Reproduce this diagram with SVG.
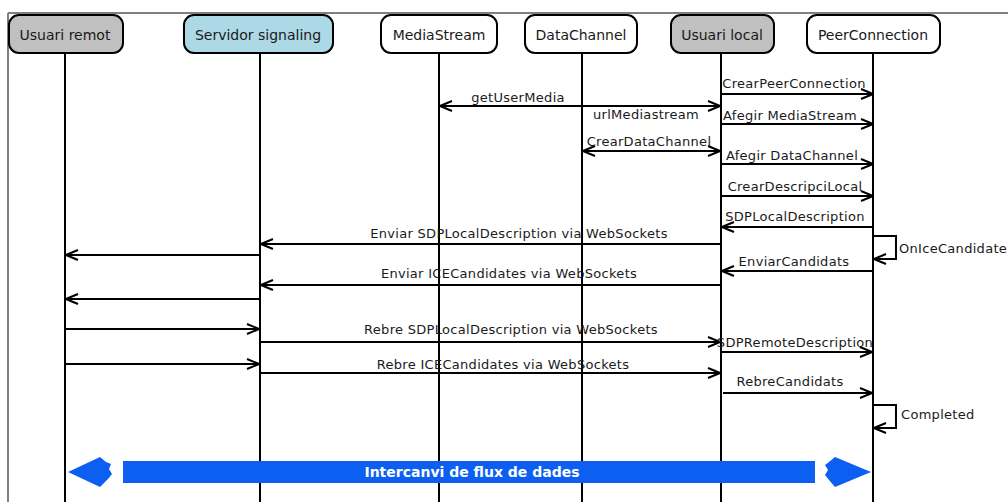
<svg xmlns="http://www.w3.org/2000/svg" width="1008" height="502" viewBox="0 0 1008 502">
  <style>
    .frame { stroke: #808080; stroke-width: 2; fill: none; }
    .box { stroke: #000; stroke-width: 2; }
    .gray { fill: #c0c0c0; }
    .blue { fill: #add8e6; }
    .white { fill: #fff; }
    .life { stroke: #000; stroke-width: 2; }
    .msg { stroke: #000; stroke-width: 2; fill: none; }
    .hd { font-family: "DejaVu Sans", Verdana, sans-serif; font-size: 14px; fill: #1a1a1a; text-anchor: middle; }
    .lbl { font-family: "DejaVu Sans", Verdana, sans-serif; font-size: 13px; letter-spacing: 0.3px; fill: #1a1a1a; text-anchor: middle; }
    .note { font-family: "DejaVu Sans", Verdana, sans-serif; font-size: 13px; letter-spacing: 0.3px; fill: #1a1a1a; }
    .band { fill: #0d5ff2; }
    .bandtxt { font-family: "DejaVu Sans", Verdana, sans-serif; font-size: 14px; font-weight: bold; fill: #fff; text-anchor: middle; }
  </style>
  <defs>
    <marker id="arr" viewBox="0 0 14 12" refX="13" refY="6" markerWidth="14" markerHeight="12" markerUnits="userSpaceOnUse" orient="auto-start-reverse">
      <path d="M1,1 L13,6 L1,11" fill="none" stroke="#000" stroke-width="2"/>
    </marker>
  </defs>

  <rect width="1008" height="502" fill="#fff"/>
  <!-- outer frame -->
  <path class="frame" d="M8,13 H1008 M8,13 V502"/>

  <!-- lifelines -->
  <g id="lifelines">
    <line class="life" x1="65" y1="53" x2="65" y2="502"/>
    <line class="life" x1="260" y1="53" x2="260" y2="502"/>
    <line class="life" x1="439" y1="53" x2="439" y2="502"/>
    <line class="life" x1="582" y1="53" x2="582" y2="502"/>
    <line class="life" x1="721" y1="53" x2="721" y2="502"/>
    <line class="life" x1="873" y1="53" x2="873" y2="502"/>
  </g>

  <!-- participants -->
  <g id="usuari-remot">
    <rect class="box gray" x="9" y="15" width="114" height="38" rx="10"/>
    <text class="hd" x="65" y="40">Usuari remot</text>
  </g>
  <g id="servidor-signaling">
    <rect class="box blue" x="184" y="15" width="149" height="38" rx="10"/>
    <text class="hd" x="258" y="40">Servidor signaling</text>
  </g>
  <g id="mediastream">
    <rect class="box white" x="381" y="15" width="116" height="38" rx="10"/>
    <text class="hd" x="439" y="40">MediaStream</text>
  </g>
  <g id="datachannel">
    <rect class="box white" x="525" y="15" width="112" height="38" rx="10"/>
    <text class="hd" x="581" y="40">DataChannel</text>
  </g>
  <g id="usuari-local">
    <rect class="box gray" x="671" y="15" width="103" height="38" rx="10"/>
    <text class="hd" x="722" y="40">Usuari local</text>
  </g>
  <g id="peerconnection">
    <rect class="box white" x="807" y="15" width="133" height="38" rx="10"/>
    <text class="hd" x="873" y="40">PeerConnection</text>
  </g>

  <!-- messages -->
  <g id="connectors">
    <line class="msg" x1="721" y1="94" x2="873" y2="94" marker-end="url(#arr)"/>
    <line class="msg" x1="440" y1="106" x2="720" y2="106" marker-start="url(#arr)" marker-end="url(#arr)"/>
    <line class="msg" x1="721" y1="124" x2="873" y2="124" marker-end="url(#arr)"/>
    <line class="msg" x1="583" y1="151" x2="720" y2="151" marker-start="url(#arr)" marker-end="url(#arr)"/>
    <line class="msg" x1="721" y1="164" x2="873" y2="164" marker-end="url(#arr)"/>
    <line class="msg" x1="721" y1="196" x2="873" y2="196" marker-end="url(#arr)"/>
    <line class="msg" x1="873" y1="227" x2="722" y2="227" marker-end="url(#arr)"/>
    <line class="msg" x1="721" y1="244" x2="261" y2="244" marker-end="url(#arr)"/>
    <path class="msg" d="M873,236 H896 V259 H874" marker-end="url(#arr)"/>
    <line class="msg" x1="260" y1="255" x2="66" y2="255" marker-end="url(#arr)"/>
    <line class="msg" x1="873" y1="271" x2="722" y2="271" marker-end="url(#arr)"/>
    <line class="msg" x1="721" y1="285" x2="261" y2="285" marker-end="url(#arr)"/>
    <line class="msg" x1="260" y1="299" x2="66" y2="299" marker-end="url(#arr)"/>
    <line class="msg" x1="65" y1="329" x2="259" y2="329" marker-end="url(#arr)"/>
    <line class="msg" x1="260" y1="342" x2="720" y2="342" marker-end="url(#arr)"/>
    <line class="msg" x1="721" y1="352" x2="872" y2="352" marker-end="url(#arr)"/>
    <line class="msg" x1="65" y1="364" x2="259" y2="364" marker-end="url(#arr)"/>
    <line class="msg" x1="260" y1="373" x2="720" y2="373" marker-end="url(#arr)"/>
    <line class="msg" x1="723" y1="393" x2="872" y2="393" marker-end="url(#arr)"/>
    <path class="msg" d="M873,405 H896 V428 H874" marker-end="url(#arr)"/>
  </g>

  <!-- message labels -->
  <g id="labels">
    <text class="lbl" x="794" y="88">CrearPeerConnection</text>
    <text class="lbl" x="518" y="102">getUserMedia</text>
    <text class="lbl" x="646" y="119">urlMediastream</text>
    <text class="lbl" x="790" y="120">Afegir MediaStream</text>
    <text class="lbl" x="649" y="146">CrearDataChannel</text>
    <text class="lbl" x="792" y="160">Afegir DataChannel</text>
    <text class="lbl" x="795" y="191">CrearDescripciLocal</text>
    <text class="lbl" x="795" y="221">SDPLocalDescription</text>
    <text class="lbl" x="519" y="238">Enviar SDPLocalDescription via WebSockets</text>
    <text class="note" x="899" y="253">OnIceCandidate</text>
    <text class="lbl" x="794" y="266">EnviarCandidats</text>
    <text class="lbl" x="509" y="278">Enviar ICECandidates via WebSockets</text>
    <text class="lbl" x="511" y="334">Rebre SDPLocalDescription via WebSockets</text>
    <text class="lbl" x="795" y="347">SDPRemoteDescription</text>
    <text class="lbl" x="503" y="369">Rebre ICECandidates via WebSockets</text>
    <text class="lbl" x="790" y="386">RebreCandidats</text>
    <text class="note" x="901" y="419">Completed</text>
  </g>

  <!-- data flow band -->
  <g id="data-flow">
    <polygon class="band" points="68,472 100,457 106,462 111,464 109,469 112,474 108,479 100,487"/>
    <rect class="band" x="123" y="461" width="692" height="22"/>
    <polygon class="band" points="871,472 835,457 829,462 825,465 828,470 825,475 829,480 835,487"/>
    <text class="bandtxt" x="472" y="477">Intercanvi de flux de dades</text>
  </g>
</svg>
